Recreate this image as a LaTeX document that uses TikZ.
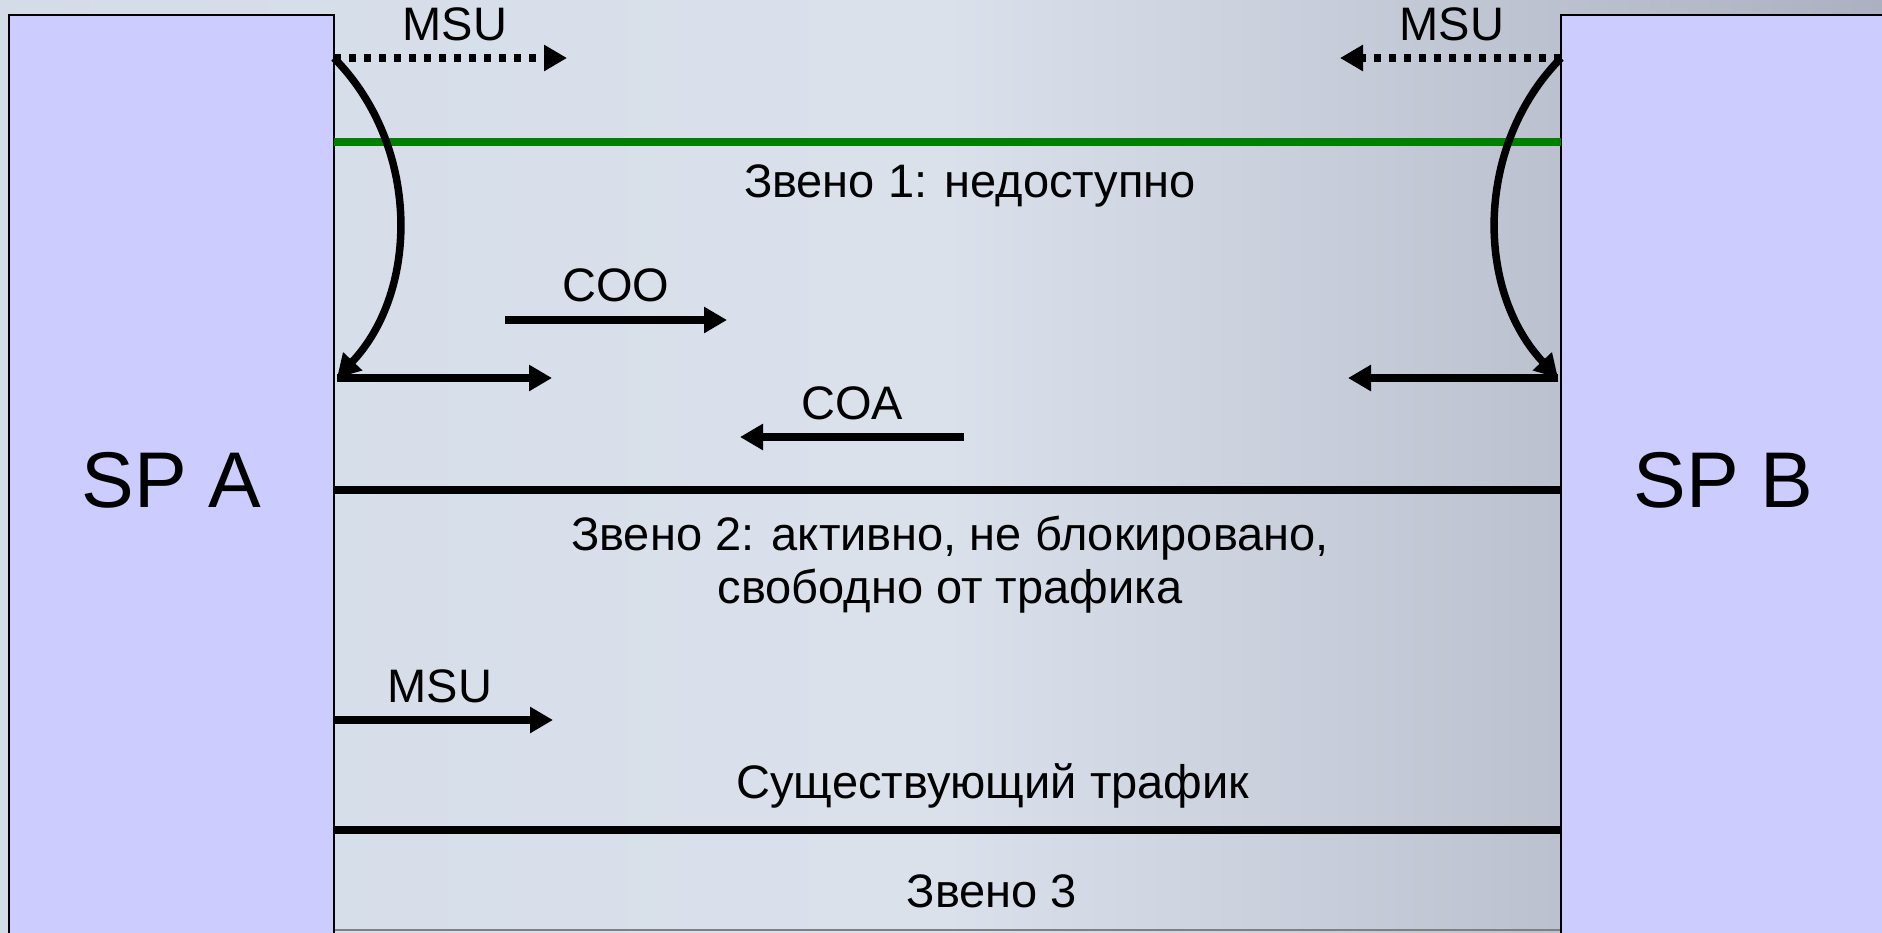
\documentclass[tikz,border=0pt]{standalone}
\usepackage{fontspec}
\setmainfont{Liberation Sans}
\usetikzlibrary{arrows.meta}

\definecolor{boxfill}{HTML}{CCCCFF}
\definecolor{bgleft}{HTML}{D4DCE8}
\definecolor{bgright}{HTML}{ACB0C0}
\definecolor{linkgreen}{HTML}{008000}

\tikzset{
  spbox/.style={draw=black, line width=2.5pt, fill=boxfill, minimum width=325pt,
    minimum height=930pt, inner sep=0pt, font=\fontsize{79}{94}\selectfont},
  lbl/.style={font=\fontsize{47}{56}\selectfont, inner sep=0pt, align=center},
  sig/.style={line width=7.5pt, -{Triangle[length=23pt,width=25pt]}},
  dotsig/.style={line width=7.5pt, dash pattern=on 7pt off 8pt,
    -{Triangle[length=23pt,width=25pt]}},
  link/.style={line width=7.5pt},
}

\begin{document}
\begin{tikzpicture}[x=1pt,y=-1pt]
  \useasboundingbox (0,0) rectangle (1882,932);
  % backdrop
  \shade[left color=bgleft, right color=bgright, middle color=bgleft!85!white]
    (0,0) rectangle (1882,932);
  \draw[gray, line width=2pt] (334,930) -- (1561,930);

  % signalling points
  \node[spbox] (spa) at (171.5,480) {SP A};
  \node[spbox] (spb) at (1723.5,480) {SP B};

  % link 1 (green, unavailable)
  \coordinate (g1) at (334,142);
  \coordinate (g2) at (1561,142);
  \draw[link, linkgreen] (g1) -- (g2);
  \node[lbl] (t1) at (970,186) {Звено 1: недоступно};

  % link 2
  \coordinate (k1) at (334,490);
  \coordinate (k2) at (1561,490);
  \draw[link] (k1) -- (k2);
  \node[lbl, anchor=north] (t2) at (950,516) {Звено 2: активно, не блокировано,\\[-3pt]свободно от трафика};

  % link 3
  \coordinate (l1) at (334,830);
  \coordinate (l2) at (1561,830);
  \draw[link] (l1) -- (l2);
  \node[lbl] (t3) at (993,786) {Существующий трафик};
  \node[lbl] (t4) at (992,891) {Звено 3};

  % MSU sent on link 1 (lost)
  \coordinate (ma0) at (334,58);
  \coordinate (ma1) at (567,58);
  \coordinate (mb0) at (1561,58);
  \coordinate (mb1) at (1340,58);
  \draw[dotsig] (ma0) -- (ma1);
  \draw[dotsig] (mb0) -- (mb1);
  \node[lbl] (msua) at (455,24) {MSU};
  \node[lbl] (msub) at (1452,24) {MSU};

  % retrieval of buffered messages
  \coordinate (ca) at (337,378);
  \coordinate (cb) at (1558,378);
  \draw[sig] (ma0) .. controls (420,145) and (420,290) .. (ca);
  \draw[sig] (mb0) .. controls (1475,145) and (1475,290) .. (cb);

  % changeover
  \coordinate (ra1) at (552,378);
  \coordinate (rb1) at (1348,378);
  \draw[sig] (ca) -- (ra1);
  \draw[sig] (cb) -- (rb1);

  \coordinate (coo0) at (505,320);
  \coordinate (coo1) at (727,320);
  \draw[sig] (coo0) -- (coo1);
  \node[lbl] (coo) at (616,285) {COO};

  \coordinate (coa0) at (964,437);
  \coordinate (coa1) at (740,437);
  \draw[sig] (coa0) -- (coa1);
  \node[lbl] (coa) at (852,403) {COA};

  % diverted traffic on link 2
  \coordinate (d0) at (334,720);
  \coordinate (d1) at (553,720);
  \draw[sig] (d0) -- (d1);
  \node[lbl] (msuc) at (440,686) {MSU};
\end{tikzpicture}
\end{document}
